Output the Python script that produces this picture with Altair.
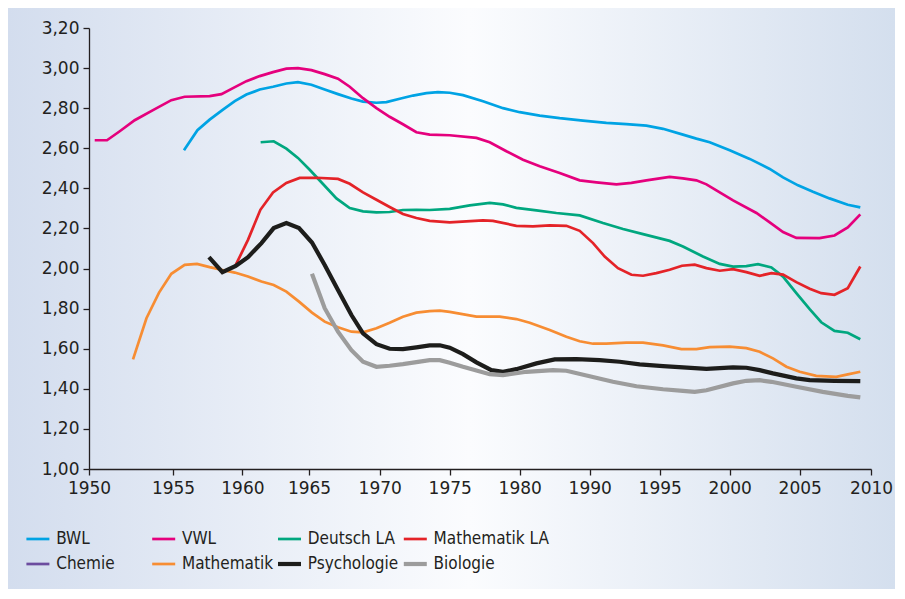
import altair as alt
import pandas as pd

# ---------------- data ----------------
faecher = ["BWL", "VWL", "Deutsch LA", "Mathematik LA",
           "Chemie", "Mathematik", "Psychologie", "Biologie"]
farben = ["#00a3e4", "#e5007d", "#00a77f", "#e42328",
          "#6c4c9f", "#f78d33", "#1d1d1b", "#9c9c9c"]
linienbreiten = [2.7, 2.7, 2.7, 2.7, 2.7, 2.7, 4.2, 4.2]

x_ticks = [1950, 1955, 1960, 1965, 1970, 1975, 1980, 1990, 1995, 2000, 2005, 2010]
y_ticks = [1.0, 1.2, 1.4, 1.6, 1.8, 2.0, 2.2, 2.4, 2.6, 2.8, 3.0, 3.2]

bwl = [(1955.79, 2.59), (1956.76, 2.69), (1957.64, 2.743), (1958.6, 2.793), (1959.45, 2.835),
       (1960.3, 2.868), (1961.3, 2.893), (1962.3, 2.907), (1963.3, 2.923), (1964.17, 2.93),
       (1965.17, 2.917), (1966.11, 2.893), (1967.05, 2.87), (1968.0, 2.848), (1968.82, 2.833),
       (1969.77, 2.827), (1970.48, 2.83), (1971.43, 2.847), (1972.38, 2.863), (1973.34, 2.875),
       (1974.16, 2.88), (1975.0, 2.877), (1975.95, 2.865), (1977.38, 2.835), (1978.81, 2.80),
       (1980.0, 2.78), (1982.86, 2.763), (1985.71, 2.75), (1989.04, 2.738), (1991.19, 2.727),
       (1992.62, 2.72), (1994.05, 2.713), (1995.24, 2.697), (1996.66, 2.668), (1997.62, 2.648),
       (1998.57, 2.63), (2000.0, 2.59), (2001.43, 2.547), (2002.86, 2.497), (2003.81, 2.455),
       (2004.88, 2.415), (2005.93, 2.383), (2007.09, 2.35), (2008.37, 2.318), (2009.25, 2.305)]

vwl = [(1950.34, 2.64), (1951.07, 2.64), (1951.83, 2.685), (1952.72, 2.74), (1953.81, 2.79),
       (1954.9, 2.84), (1955.84, 2.857), (1957.64, 2.86), (1958.49, 2.87), (1959.32, 2.90),
       (1960.3, 2.935), (1961.3, 2.96), (1962.3, 2.98), (1963.3, 2.997), (1964.17, 3.0),
       (1965.17, 2.99), (1966.11, 2.97), (1967.05, 2.947), (1967.88, 2.907), (1968.82, 2.85),
       (1969.77, 2.80), (1970.71, 2.757), (1971.66, 2.72), (1972.62, 2.68), (1973.57, 2.668),
       (1975.0, 2.665), (1976.91, 2.652), (1977.86, 2.63), (1979.05, 2.585), (1980.47, 2.543),
       (1982.86, 2.51), (1985.71, 2.477), (1988.57, 2.44), (1990.48, 2.43), (1991.91, 2.42),
       (1992.98, 2.427), (1994.05, 2.44), (1995.0, 2.45), (1995.71, 2.457), (1996.66, 2.45),
       (1997.62, 2.44), (1998.34, 2.42), (1999.05, 2.39), (2000.24, 2.34), (2001.91, 2.277),
       (2002.86, 2.23), (2003.81, 2.182), (2004.76, 2.153), (2006.39, 2.152), (2007.44, 2.165),
       (2008.37, 2.205), (2009.25, 2.27)]

deutsch_la = [(1961.37, 2.63), (1962.35, 2.635), (1963.3, 2.598), (1964.17, 2.552), (1965.05, 2.493),
              (1965.99, 2.422), (1966.94, 2.35), (1967.88, 2.302), (1968.82, 2.285), (1969.77, 2.28),
              (1970.71, 2.282), (1971.66, 2.292), (1972.62, 2.293), (1973.57, 2.292), (1975.0, 2.298),
              (1976.43, 2.315), (1977.86, 2.328), (1978.81, 2.32), (1979.76, 2.303), (1982.39, 2.29),
              (1985.24, 2.277), (1988.57, 2.265), (1990.95, 2.227), (1992.38, 2.197), (1993.81, 2.172),
              (1995.71, 2.138), (1996.66, 2.11), (1998.09, 2.06), (1999.29, 2.023), (2000.24, 2.01),
              (2001.19, 2.012), (2002.02, 2.022), (2002.98, 2.005), (2003.81, 1.96), (2004.76, 1.877),
              (2005.7, 1.797), (2006.51, 1.732), (2007.44, 1.689), (2008.37, 1.68), (2009.25, 1.647)]

mathematik_la = [(1959.52, 2.018), (1960.42, 2.143), (1961.35, 2.293), (1962.3, 2.38), (1963.3, 2.427),
                 (1964.3, 2.452), (1965.52, 2.453), (1967.05, 2.447), (1967.88, 2.423), (1968.82, 2.38),
                 (1969.77, 2.343), (1970.71, 2.307), (1971.66, 2.272), (1972.62, 2.252), (1973.57, 2.238),
                 (1975.0, 2.23), (1977.38, 2.24), (1978.09, 2.238), (1979.76, 2.213), (1981.9, 2.21),
                 (1984.29, 2.215), (1986.67, 2.213), (1988.57, 2.188), (1990.24, 2.127), (1991.07, 2.06),
                 (1992.02, 2.002), (1992.98, 1.969), (1993.81, 1.964), (1994.76, 1.977), (1995.71, 1.994),
                 (1996.59, 2.014), (1997.5, 2.019), (1998.34, 2.002), (1999.29, 1.989), (2000.24, 1.997),
                 (2001.19, 1.982), (2002.14, 1.964), (2002.98, 1.977), (2003.81, 1.97), (2004.76, 1.932),
                 (2005.7, 1.899), (2006.51, 1.877), (2007.44, 1.869), (2008.37, 1.902), (2009.25, 2.01)]

chemie = []

mathematik = [(1952.62, 1.547), (1953.42, 1.752), (1954.17, 1.88), (1954.9, 1.974), (1955.84, 2.018),
              (1956.73, 2.023), (1957.64, 2.007), (1958.56, 1.993), (1959.45, 1.98), (1960.42, 1.96),
              (1961.43, 1.935), (1962.35, 1.918), (1963.3, 1.885), (1964.25, 1.835), (1965.21, 1.78),
              (1966.11, 1.735), (1967.05, 1.707), (1968.0, 1.685), (1968.82, 1.682), (1969.77, 1.702),
              (1970.71, 1.73), (1971.66, 1.76), (1972.62, 1.78), (1973.57, 1.788), (1974.29, 1.79),
              (1975.0, 1.784), (1976.91, 1.76), (1978.57, 1.76), (1979.76, 1.748), (1981.43, 1.73),
              (1984.29, 1.693), (1986.67, 1.66), (1988.57, 1.637), (1990.24, 1.625), (1991.19, 1.625),
              (1992.62, 1.63), (1993.81, 1.63), (1995.24, 1.617), (1996.55, 1.598), (1997.62, 1.598),
              (1998.57, 1.608), (2000.0, 1.61), (2001.19, 1.603), (2002.14, 1.585), (2003.09, 1.552),
              (2004.05, 1.51), (2005.0, 1.485), (2006.16, 1.465), (2007.56, 1.46), (2008.37, 1.472),
              (2009.25, 1.485)]

psychologie = [(1957.59, 2.057), (1958.56, 1.982), (1959.52, 2.013), (1960.42, 2.057), (1961.43, 2.127),
               (1962.35, 2.202), (1963.3, 2.227), (1964.25, 2.202), (1965.21, 2.13), (1966.11, 2.018),
               (1967.05, 1.893), (1968.0, 1.768), (1968.82, 1.677), (1969.77, 1.623), (1970.71, 1.60),
               (1971.66, 1.598), (1972.62, 1.607), (1973.57, 1.617), (1974.29, 1.617), (1975.0, 1.605),
               (1975.95, 1.573), (1976.91, 1.532), (1977.98, 1.493), (1978.81, 1.485), (1979.76, 1.498),
               (1982.39, 1.527), (1985.0, 1.547), (1988.1, 1.548), (1990.71, 1.543), (1992.14, 1.535),
               (1993.57, 1.522), (1995.24, 1.513), (1996.66, 1.507), (1998.34, 1.50), (2000.24, 1.507),
               (2001.19, 1.505), (2002.14, 1.493), (2003.09, 1.477), (2004.76, 1.452), (2005.7, 1.443),
               (2007.44, 1.44), (2009.25, 1.438)]

biologie = [(1965.21, 1.974), (1966.11, 1.802), (1967.05, 1.685), (1968.0, 1.593), (1968.82, 1.535),
            (1969.77, 1.51), (1970.71, 1.515), (1971.66, 1.523), (1972.62, 1.533), (1973.57, 1.543),
            (1974.29, 1.543), (1975.0, 1.53), (1975.95, 1.51), (1977.86, 1.473), (1978.81, 1.468),
            (1980.96, 1.485), (1984.76, 1.493), (1986.67, 1.49), (1990.0, 1.463), (1991.66, 1.435),
            (1993.34, 1.413), (1995.24, 1.398), (1996.66, 1.39), (1997.5, 1.385), (1998.34, 1.393),
            (2000.24, 1.427), (2001.19, 1.44), (2002.14, 1.443), (2002.98, 1.435), (2004.76, 1.41),
            (2006.62, 1.385), (2008.37, 1.365), (2009.25, 1.357)]

serien = {"BWL": bwl, "VWL": vwl, "Deutsch LA": deutsch_la, "Mathematik LA": mathematik_la,
          "Chemie": chemie, "Mathematik": mathematik, "Psychologie": psychologie,
          "Biologie": biologie}

rows = []
for i, name in enumerate(faecher):
    for j, (jahr, note) in enumerate(serien[name]):
        rows.append({"Fach": name, "Jahr": jahr, "Note": note, "o": j})
df = pd.DataFrame(rows)

# legend table: 4 columns x 2 rows, filled row by row
leg_df = pd.DataFrame({"Fach": faecher,
                       "spalte": [i % 4 for i in range(len(faecher))],
                       "zeile": [i // 4 for i in range(len(faecher))]})

# ---------------- layout ----------------
W, H = 782, 441
PAD = {"left": 81, "top": 20, "right": 24, "bottom": 120}
# the picture's year axis is not uniform (note the 1980 -> 1990 step)
x_range = [0, 84, 153.4, 220, 290.7, 360.7, 430.7, 500.7, 570.7, 640.7, 710.7, 782]
LEG_X0, LEG_DX = -62.6, 125.8     # first legend column, column pitch
LEG_Y0, LEG_DY = 511, 25          # first legend row centre, row pitch
SYM_LEN = 23
LABEL_DX = 29.8

FONT = "DejaVu Sans"
LEGEND_FONT = "DejaVu Sans Condensed"
INK = "#231f20"

color_enc = alt.Color("Fach:N", scale=alt.Scale(domain=faecher, range=farben), legend=None)
width_enc = alt.StrokeWidth("Fach:N",
                            scale=alt.Scale(type="ordinal", domain=faecher, range=linienbreiten),
                            legend=None)

bg = alt.Chart(pd.DataFrame({"a": [0]})).mark_rect(
    fill=alt.LinearGradient(
        gradient="linear", x1=0, x2=1, y1=0, y2=0,
        stops=[alt.GradientStop(color="#d3ddee", offset=0),
               alt.GradientStop(color="#fbfcfe", offset=0.52),
               alt.GradientStop(color="#d4dfee", offset=1)]),
    strokeWidth=0,
).encode(
    x=alt.value(-PAD["left"]), x2=alt.value(W + PAD["right"]),
    y=alt.value(-PAD["top"]), y2=alt.value(H + PAD["bottom"]),
)

lines = alt.Chart(df).mark_line(interpolate="linear", clip=False).encode(
    x=alt.X("Jahr:Q",
            scale=alt.Scale(domain=x_ticks, range=x_range, zero=False, nice=False),
            axis=alt.Axis(values=x_ticks, title=None, grid=False, format="d", zindex=1,
                          labelFont=FONT, labelFontSize=17, labelColor=INK,
                          labelPadding=5, tickSize=6, tickColor=INK, tickWidth=1.3,
                          domainColor=INK, domainWidth=1.3, labelFlush=False)),
    y=alt.Y("Note:Q",
            scale=alt.Scale(domain=[1.0, 3.2], zero=False, nice=False),
            axis=alt.Axis(values=y_ticks, title=None, grid=False, zindex=1,
                          labelExpr="replace(format(datum.value, '.2f'), '.', ',')",
                          labelFont=FONT, labelFontSize=17, labelColor=INK,
                          labelPadding=4, tickSize=6, tickColor=INK, tickWidth=1.3,
                          domainColor=INK, domainWidth=1.3)),
    color=color_enc,
    strokeWidth=width_enc,
    detail="Fach:N",
    order="o:Q",
)

leg_x = alt.X("spalte:Q", scale=alt.Scale(domain=[0, 4], range=[LEG_X0, LEG_X0 + 4 * LEG_DX]),
              axis=None)
leg_y = alt.Y("zeile:Q", scale=alt.Scale(domain=[0, 1], range=[LEG_Y0, LEG_Y0 + LEG_DY]),
              axis=None)

leg_sym = alt.Chart(leg_df).mark_point(
    shape="stroke", size=SYM_LEN * SYM_LEN, filled=False, opacity=1, xOffset=SYM_LEN / 2
).encode(x=leg_x, y=leg_y, color=color_enc, strokeWidth=width_enc)

leg_txt = alt.Chart(leg_df).mark_text(
    align="left", baseline="middle", dx=LABEL_DX, font=LEGEND_FONT, fontSize=17, color=INK
).encode(x=leg_x, y=leg_y, text="Fach:N")

chart = alt.layer(bg, lines, leg_sym, leg_txt).resolve_scale(
    x="independent", y="independent"
).properties(
    width=W, height=H,
    autosize=alt.AutoSizeParams(type="none"),
    padding=PAD,
    background="#dbe4f1",
).configure_view(stroke=None)

chart.save("out.html", embed_options={"renderer": "svg", "actions": False})
